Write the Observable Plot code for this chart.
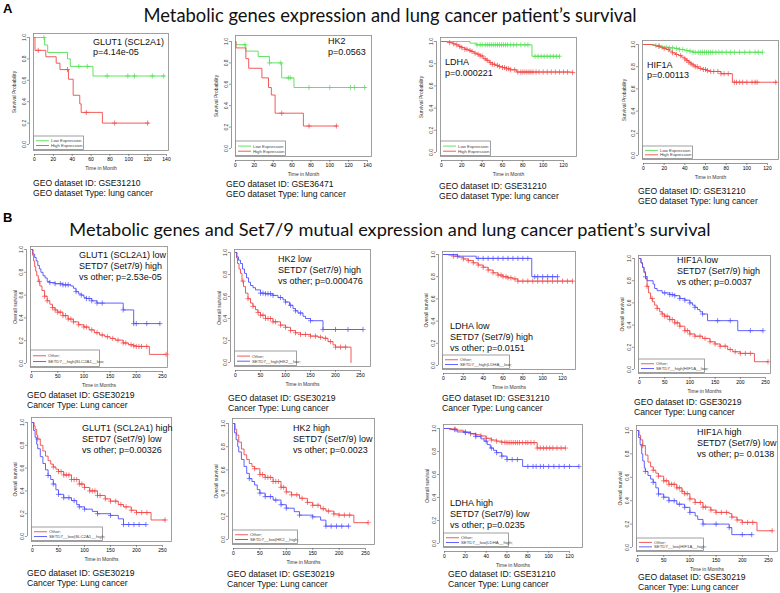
<!DOCTYPE html>
<html><head><meta charset="utf-8">
<script src="https://cdn.jsdelivr.net/npm/d3@7"></script>
<script src="https://cdn.jsdelivr.net/npm/@observablehq/plot@0.6"></script>
<style>
body{margin:0;background:#fff;}
#fig{position:relative;width:780px;height:593px;overflow:hidden;background:#fff;}
</style></head>
<body><div id="fig"></div>
<script>
// ---------- DATA ----------
const yTicks = [0, 0.2, 0.4, 0.6, 0.8, 1.0];
const xTicks140 = [0, 20, 40, 60, 80, 100, 120, 140];
const xTicks120 = [0, 20, 40, 60, 80, 100, 120];
const xTicks250 = [0, 50, 100, 150, 200, 250];

const titleA = "Metabolic genes expression and lung cancer patient\u2019s survival";
const titleB = "Metabolic genes and Set7/9 mutual expression and lung cancer patient\u2019s survival";

// Panel A1 GLUT1
const a1Low = [[0,1],[10.7,0.93],[14,0.86],[35,0.80],[38,0.73],[62,0.64],[138,0.64]];
const a1LowCens = [10,47,56,77,99,106,125,137];
const a1High = [[0,1],[0.5,0.88],[12,0.82],[23,0.76],[27,0.70],[36,0.61],[41,0.46],[48,0.38],[49.5,0.30],[72,0.20],[121,0.20]];
const a1HighCens = [4,35,55,85,120];
// Panel A2 HK2
const a2Low = [[0,1],[0.5,0.97],[11,0.91],[24,0.86],[36,0.80],[49,0.66],[62,0.57],[138,0.57]];
const a2LowCens = [10,36,48,56,58,78,100,122,126,137];
const a2High = [[0,1],[0.5,0.94],[11,0.84],[14,0.75],[28,0.66],[35,0.57],[38,0.50],[42,0.33],[72,0.21],[108,0.21]];
const a2HighCens = [49,78,107];
// Panel A3 LDHA
const a3Low = [[0,1],[28,0.985],[34,0.97],[89,0.867],[116,0.867]];
const a3LowCens = [35,38,40,43,45,47,49,51,53,55,57,59,61,63,65,68,71,74,78,82,85,92,95,98,101,104,107,110,113,116];
const a3High = [[0,1],[5,0.995],[8,0.99],[11,0.98],[14,0.97],[17,0.955],[20,0.945],[23,0.93],[26,0.92],[29,0.91],[32,0.895],[35,0.885],[38,0.87],[41,0.845],[44,0.83],[47,0.81],[50,0.795],[53,0.785],[56,0.775],[60,0.765],[64,0.755],[68,0.745],[74,0.725],[129,0.72]];
const a3HighCens = [8,12,15,18,20,23,25,28,30,33,36,38,40,43,45,48,50,52,55,57,60,62,64,66,68,72,75,78,80,82,84,86,88,90,93,96,100,104,108,112,116,120,124,129];
// Panel A4 HIF1A
const a4Low = [[0,1],[10,0.99],[14,0.985],[18,0.975],[24,0.97],[30,0.965],[35,0.955],[40,0.945],[44,0.94],[48,0.93],[115,0.93]];
const a4LowCens = [12,15,18,22,25,28,32,35,38,42,45,48,50,53,55,57,59,61,63,65,67,70,73,76,80,84,88,93,98,103,108,111,115];
const a4High = [[0,1],[8,0.995],[12,0.985],[16,0.975],[19,0.965],[22,0.955],[25,0.94],[28,0.925],[31,0.91],[34,0.9],[37,0.885],[40,0.87],[42,0.855],[44,0.84],[46,0.825],[48,0.815],[50,0.8],[53,0.785],[57,0.775],[61,0.765],[64,0.757],[75,0.737],[86,0.66],[129,0.66]];
const a4HighCens = [15,20,24,28,32,36,40,42,44,46,48,50,52,55,58,60,62,65,68,72,75,78,82,88,90,93,96,100,105,108,110,128];
// Panel B1 GLUT1 low / SETD7 high
const b1Blue = [[0,1],[3,0.96],[6,0.93],[9,0.9],[12,0.86],[15,0.83],[18,0.8],[22,0.77],[26,0.75],[30,0.72],[35,0.71],[45,0.70],[60,0.69],[75,0.68],[80,0.66],[85,0.63],[90,0.61],[95,0.60],[100,0.58],[105,0.57],[115,0.55],[125,0.53],[175,0.47],[195,0.35],[245,0.35]];
const b1BlueCens = [35,45,55,60,65,70,85,95,105,110,115,125,135,175,195,200,220,245];
const b1Red = [[0,1],[2,0.95],[4,0.9],[6,0.85],[8,0.81],[10,0.77],[13,0.72],[16,0.68],[20,0.64],[25,0.59],[30,0.55],[35,0.52],[40,0.49],[45,0.47],[50,0.45],[60,0.42],[70,0.39],[80,0.365],[90,0.34],[100,0.32],[110,0.295],[120,0.27],[130,0.25],[140,0.235],[150,0.22],[160,0.205],[175,0.18],[185,0.165],[195,0.155],[200,0.15],[225,0.08],[257,0.08]];
const b1RedCens = [15,25,30,40,45,50,55,60,65,70,75,80,90,100,105,115,125,135,145,155,165,175,180,190,195,200,205,210,220,257];
// Panel B2 HK2 low / SETD7 high
const b2Blue = [[0,1],[3,0.96],[6,0.93],[10,0.9],[14,0.85],[18,0.81],[22,0.77],[26,0.73],[30,0.70],[35,0.68],[40,0.66],[50,0.63],[60,0.625],[75,0.61],[85,0.59],[95,0.57],[100,0.55],[108,0.52],[115,0.49],[120,0.47],[125,0.45],[135,0.42],[140,0.40],[150,0.38],[175,0.30],[255,0.30]];
const b2BlueCens = [50,55,60,65,70,75,90,100,110,120,130,150,175,200,225,255];
const b2Red = [[0,1],[2,0.95],[4,0.9],[7,0.85],[10,0.81],[13,0.74],[16,0.69],[20,0.63],[25,0.58],[30,0.54],[35,0.51],[40,0.48],[45,0.455],[50,0.43],[60,0.40],[75,0.37],[90,0.34],[100,0.32],[110,0.29],[120,0.27],[130,0.255],[150,0.24],[165,0.23],[175,0.22],[185,0.19],[195,0.16],[200,0.14],[231,0]];
const b2RedCens = [15,25,35,45,50,55,60,65,70,75,80,90,100,110,120,130,140,150,160,170,180,190,200,210,220];
// Panel B3 LDHA low / SETD7 high
const b3Blue = [[0,1],[14,0.985],[33,0.965],[89,0.80],[115,0.80]];
const b3BlueCens = [14,35,40,45,50,55,60,65,70,75,80,85,92,95,100,105,110,115];
const b3Red = [[0,1],[5,0.995],[10,0.985],[15,0.975],[20,0.96],[25,0.945],[30,0.925],[35,0.905],[40,0.885],[45,0.86],[50,0.835],[55,0.815],[60,0.80],[65,0.79],[70,0.78],[75,0.76],[130,0.76]];
const b3RedCens = [10,20,25,30,35,40,45,50,55,58,60,63,65,68,72,75,80,85,90,95,100,105,110,115,120,125,130];
// Panel B4 HIF1A low / SETD7 high
const b4Blue = [[0,1],[3,0.96],[6,0.92],[9,0.88],[12,0.835],[15,0.80],[27,0.77],[30,0.73],[35,0.71],[45,0.69],[60,0.675],[70,0.665],[80,0.64],[90,0.625],[100,0.60],[105,0.58],[110,0.56],[115,0.54],[120,0.52],[125,0.50],[135,0.44],[195,0.35],[245,0.35]];
const b4BlueCens = [12,50,60,65,70,80,90,100,110,125,155,180,220,245];
const b4Red = [[0,1],[3,0.96],[6,0.92],[9,0.87],[12,0.82],[15,0.75],[18,0.69],[22,0.64],[26,0.61],[30,0.58],[35,0.55],[40,0.52],[45,0.50],[50,0.48],[60,0.45],[70,0.42],[80,0.39],[90,0.35],[100,0.32],[110,0.30],[125,0.28],[140,0.25],[150,0.23],[160,0.21],[175,0.18],[185,0.16],[200,0.145],[228,0.07],[255,0.07]];
const b4RedCens = [15,25,35,45,50,55,60,65,70,75,80,90,95,100,110,120,130,140,150,160,170,180,190,200,210,220,255];
// Panel B5 GLUT1 high / SETD7 low
const b5Red = [[0,1],[3,0.97],[5,0.94],[8,0.89],[10,0.855],[15,0.80],[20,0.75],[25,0.705],[30,0.665],[35,0.635],[40,0.61],[45,0.59],[50,0.57],[60,0.54],[75,0.50],[90,0.46],[100,0.43],[110,0.40],[125,0.36],[140,0.33],[150,0.31],[165,0.28],[175,0.26],[190,0.23],[200,0.21],[228,0.145],[255,0.145]];
const b5RedCens = [10,40,50,55,60,65,70,75,80,85,90,95,100,110,115,120,125,130,140,150,160,170,180,190,200,210,220,255];
const b5Blue = [[0,1],[2,0.93],[5,0.87],[8,0.81],[10,0.77],[15,0.70],[20,0.64],[25,0.585],[30,0.535],[35,0.50],[40,0.46],[45,0.41],[50,0.37],[60,0.34],[75,0.315],[85,0.28],[90,0.26],[100,0.24],[115,0.22],[125,0.20],[150,0.185],[165,0.155],[175,0.105],[218,0.105]];
const b5BlueCens = [30,40,50,60,70,80,90,100,125,150,175,185,195,205,218];
// Panel B6 HK2 high / SETD7 low
const b6Red = [[0,1],[3,0.95],[6,0.90],[10,0.84],[15,0.78],[20,0.73],[25,0.69],[30,0.655],[35,0.63],[40,0.61],[50,0.56],[60,0.535],[75,0.50],[90,0.45],[100,0.41],[110,0.385],[125,0.355],[140,0.32],[150,0.295],[165,0.265],[175,0.245],[190,0.22],[200,0.21],[228,0.145],[255,0.145]];
const b6RedCens = [40,50,55,60,65,70,75,80,85,90,95,100,110,120,130,140,150,160,170,180,190,200,210,220,255];
const b6Blue = [[0,1],[2,0.92],[5,0.86],[8,0.80],[10,0.755],[15,0.69],[20,0.63],[25,0.57],[30,0.525],[35,0.50],[40,0.47],[45,0.43],[50,0.40],[60,0.37],[75,0.34],[90,0.30],[100,0.27],[115,0.24],[125,0.21],[150,0.195],[165,0.167],[175,0.115],[218,0.115]];
const b6BlueCens = [30,50,60,70,80,90,100,125,150,175,185,195,205,218];
// Panel B7 LDHA high / SETD7 low
const b7Red = [[0,1],[7,0.995],[12,0.985],[18,0.97],[25,0.955],[30,0.945],[35,0.935],[40,0.915],[45,0.90],[50,0.89],[55,0.88],[60,0.877],[89,0.83],[116,0.83]];
const b7RedCens = [10,20,25,30,35,40,45,50,55,58,60,62,64,66,68,70,72,75,78,80,83,86,89,92,95,98,101,104,108,112,116];
const b7Blue = [[0,1],[5,0.99],[12,0.97],[20,0.965],[25,0.955],[30,0.93],[35,0.91],[38,0.89],[41,0.86],[44,0.83],[47,0.81],[50,0.79],[55,0.76],[60,0.73],[75,0.67],[129,0.67]];
const b7BlueCens = [10,20,30,40,45,50,55,60,65,70,80,85,88,92,95,100,105,110,115,120,129];
// Panel B8 HIF1A high / SETD7 low
const b8Red = [[0,1],[3,0.96],[6,0.92],[10,0.87],[15,0.79],[20,0.73],[25,0.69],[30,0.66],[35,0.635],[40,0.61],[50,0.57],[60,0.54],[75,0.51],[85,0.48],[90,0.46],[100,0.415],[110,0.385],[125,0.345],[140,0.32],[150,0.30],[175,0.29],[180,0.26],[190,0.235],[200,0.215],[228,0.143],[257,0.143]];
const b8RedCens = [10,30,40,50,55,60,65,70,75,80,85,90,95,100,110,120,125,130,140,150,160,170,180,190,200,210,220,257];
const b8Blue = [[0,1],[2,0.94],[5,0.88],[8,0.80],[10,0.74],[13,0.68],[15,0.65],[20,0.615],[25,0.585],[30,0.557],[35,0.51],[40,0.457],[50,0.43],[60,0.40],[75,0.37],[90,0.343],[100,0.30],[110,0.27],[115,0.24],[125,0.20],[175,0.17],[180,0.11],[218,0.11]];
const b8BlueCens = [15,30,40,50,60,70,80,90,100,125,150,175,200,218];

// Texts
const panelLabels = [
  ["GLUT1 (SCL2A1)", "p=4.14e-05"],
  ["HK2", "p=0.0563"],
  ["LDHA", "p=0.000221"],
  ["HIF1A", "p=0.00113"],
  ["GLUT1 (SCL2A1) low", "SETD7 (Set7/9) high", "vs other; p=2.53e-05"],
  ["HK2 low", "SETD7 (Set7/9) high", "vs other; p=0.000476"],
  ["LDHA low", "SETD7 (Set7/9) high", "vs other; p=0.0151"],
  ["HIF1A low", "SETD7 (Set7/9) high", "vs other; p=0.0037"],
  ["GLUT1 (SCL2A1) high", "SETD7 (Set7/9) low", "vs other; p=0.00326"],
  ["HK2 high", "SETD7 (Set7/9) low", "vs other; p=0.0023"],
  ["LDHA high", "SETD7 (Set7/9) low", "vs other; p=0.0235"],
  ["HIF1A high", "SETD7 (Set7/9) low", "vs other; p= 0.0138"]
];
const geoTexts = [
  ["GEO dataset ID: GSE31210", "GEO dataset Type: lung cancer"],
  ["GEO dataset ID: GSE36471", "GEO dataset Type: lung cancer"],
  ["GEO dataset ID: GSE31210", "GEO dataset Type: lung cancer"],
  ["GEO dataset ID: GSE31210", "GEO dataset Type: lung cancer"],
  ["GEO dataset ID: GSE30219", "Cancer Type: Lung cancer"],
  ["GEO dataset ID: GSE30219", "Cancer Type: Lung cancer"],
  ["GEO dataset ID: GSE31210", "Cancer Type: Lung cancer"],
  ["GEO dataset ID: GSE30219", "Cancer Type: Lung cancer"],
  ["GEO dataset ID: GSE30219", "Cancer Type: Lung cancer"],
  ["GEO dataset ID: GSE30219", "Cancer Type: Lung cancer"],
  ["GEO dataset ID: GSE31210", "Cancer Type: Lung cancer"],
  ["GEO dataset ID: GSE30219", "Cancer Type: Lung cancer"]
];
const legendA = ["Low Expression", "High Expression"];
const legendB = [
  ["Other;", "SETD7__high|SLC2A1__low;"],
  ["Other;", "SETD7__high|HK2__low;"],
  ["Other;", "SETD7__high|LDHA__low;"],
  ["Other;", "SETD7__high|HIF1A__low;"],
  ["Other;", "SETD7__low|SLC2A1__high;"],
  ["Other;", "SETD7__low|HK2__high;"],
  ["Other;", "SETD7__low|LDHA__high;"],
  ["Other;", "SETD7__low|HIF1A__high;"]
];

// ---------- STYLE / LAYOUT ----------
const GREEN = "#52e052", RED = "#f24848", BLUE = "#5050ff";
const panels = [
  {s:[[a1Low,a1LowCens,GREEN],[a1High,a1HighCens,RED]], xt:xTicks140, yl:"Survival Probability", xl:"Time in Month"},
  {s:[[a2Low,a2LowCens,GREEN],[a2High,a2HighCens,RED]], xt:xTicks140, yl:"Survival Probability", xl:"Time in Month"},
  {s:[[a3Low,a3LowCens,GREEN],[a3High,a3HighCens,RED]], xt:xTicks120, yl:"Survival Probability", xl:"Time in Month"},
  {s:[[a4Low,a4LowCens,GREEN],[a4High,a4HighCens,RED]], xt:xTicks120, yl:"Survival Probability", xl:"Time in Month"},
  {s:[[b1Red,b1RedCens,RED],[b1Blue,b1BlueCens,BLUE]], xt:xTicks250, yl:"Overall survival", xl:"Time in Months"},
  {s:[[b2Red,b2RedCens,RED],[b2Blue,b2BlueCens,BLUE]], xt:xTicks250, yl:"Overall survival", xl:"Time in Months"},
  {s:[[b3Red,b3RedCens,RED],[b3Blue,b3BlueCens,BLUE]], xt:xTicks120, yl:"Overall survival", xl:"Time in Months"},
  {s:[[b4Red,b4RedCens,RED],[b4Blue,b4BlueCens,BLUE]], xt:xTicks250, yl:"Overall survival", xl:"Time in Months"},
  {s:[[b5Red,b5RedCens,RED],[b5Blue,b5BlueCens,BLUE]], xt:xTicks250, yl:"Overall survival", xl:"Time in Months"},
  {s:[[b6Red,b6RedCens,RED],[b6Blue,b6BlueCens,BLUE]], xt:xTicks250, yl:"Overall survival", xl:"Time in Months"},
  {s:[[b7Red,b7RedCens,RED],[b7Blue,b7BlueCens,BLUE]], xt:xTicks120, yl:"Overall survival", xl:"Time in Months"},
  {s:[[b8Red,b8RedCens,RED],[b8Blue,b8BlueCens,BLUE]], xt:xTicks250, yl:"Overall survival", xl:"Time in Months"}
];
// frame box, tick anchors, label/geo positions, legend size (page pixels)
const layout = [
  {fl:33, fr:168,ft:33, fb:150,x0:34, xr:140,xp:166,y1:37, y0:144,lx:93, ly:44.5,gx:33, gy:185.5,lw:50,lh:14,yt:-19},
  {fl:235,fr:371,ft:35, fb:156,x0:235,xr:140,xp:367,y1:41, y0:148,lx:328,ly:44,  gx:226,gy:187.3,lw:50,lh:15,yt:-19},
  {fl:440,fr:576,ft:37, fb:156,x0:441,xr:120,xp:563,y1:41, y0:152,lx:445,ly:65,  gx:439,gy:188.7,lw:50,lh:15,yt:-19},
  {fl:642,fr:778,ft:40, fb:159,x0:643,xr:120,xp:767,y1:44, y0:155,lx:647,ly:67.7,gx:638,gy:194,  lw:50,lh:13,yt:-18},
  {fl:30, fr:167,ft:246,fb:367,x0:31, xr:250,xp:162,y1:249,y0:363,lx:79, ly:257.7,gx:27, gy:398.3,lw:69,lh:17,yt:-15},
  {fl:234,fr:370,ft:249,fb:366,x0:235,xr:250,xp:360,y1:252,y0:362,lx:278,ly:262, gx:228,gy:401,  lw:62,lh:15,yt:-15},
  {fl:442,fr:575,ft:251,fb:369,x0:443,xr:120,xp:562,y1:254,y0:365,lx:450,ly:329, gx:442,gy:401,  lw:67,lh:14,yt:-16},
  {fl:638,fr:770,ft:255,fb:373,x0:639,xr:250,xp:765,y1:258,y0:369,lx:677,ly:262.7,gx:634,gy:405, lw:66,lh:14,yt:-16},
  {fl:31, fr:171,ft:417,fb:541,x0:32, xr:250,xp:162,y1:422,y0:536,lx:82, ly:431, gx:27, gy:575.7,lw:71,lh:14,yt:-16},
  {fl:232,fr:374,ft:418,fb:544,x0:233,xr:250,xp:365,y1:423,y0:539,lx:293,ly:431, gx:227,gy:576.7,lw:65,lh:14,yt:-16},
  {fl:443,fr:582,ft:424,fb:547,x0:444,xr:120,xp:569,y1:428,y0:543,lx:450,ly:506, gx:448,gy:576.7,lw:65,lh:14,yt:-16},
  {fl:636,fr:777,ft:425,fb:551,x0:637,xr:250,xp:768,y1:430,y0:547,lx:697,ly:435, gx:638,gy:580,  lw:67,lh:13,yt:-16}
];

const FONT = "Liberation Sans, Arial, sans-serif";
const fig = document.getElementById("fig");
const fmt = d3.format(".1f");
function survAt(d, t) { let s = d[0][1]; for (const [tt, ss] of d) { if (tt <= t) s = ss; else break; } return s; }

panels.forEach((P, i) => {
  const L = layout[i];
  const mL = 22, mR = 2, mT = 2, mB = 24;
  const kx = (L.xp - L.x0) / L.xr;
  const xd = [(L.fl - L.x0) / kx, (L.fr - L.x0) / kx];
  const ky = L.y0 - L.y1;
  const yd = [-(L.fb - L.y0) / ky, 1 + (L.y1 - L.ft) / ky];
  const lastTick = P.xt[P.xt.length - 1];
  const marks = [
    Plot.frame({stroke: "#888", strokeWidth: 0.8}),
    Plot.ruleY([yd[0]], {x1: 0, x2: lastTick, dy: 4, stroke: "#555", strokeWidth: 0.6}),
    Plot.axisX({ticks: P.xt, tickSize: 2, tickPadding: 1, dy: 4, label: null, fontSize: 5, stroke: "#555", strokeWidth: 0.6}),
    Plot.ruleX([xd[0]], {y1: 0, y2: 1, dx: -4, stroke: "#555", strokeWidth: 0.6}),
    Plot.axisY({ticks: yTicks, tickSize: 2, dx: -4, tickFormat: () => "", label: null, stroke: "#555", strokeWidth: 0.6}),
    Plot.text(yTicks, {y: d => d, frameAnchor: "left", dx: -9, rotate: -90, text: d => fmt(d), fontSize: 5, fill: "#333", textAnchor: "middle", lineAnchor: "middle"}),
    Plot.text([P.xl], {frameAnchor: "bottom", dy: 18, fontSize: 5, fill: "#333", textAnchor: "middle", lineAnchor: "middle"}),
    Plot.text([P.yl], {frameAnchor: "left", dx: L.yt, rotate: -90, fontSize: 5, fill: "#333", textAnchor: "middle", lineAnchor: "middle"})
  ];
  for (const [d, c, col] of P.s) {
    marks.push(Plot.line(d, {x: d => d[0], y: d => d[1], curve: "step-after", stroke: col, strokeWidth: 0.9}));
    marks.push(Plot.dot(c, {x: t => t, y: t => survAt(d, t), symbol: "plus", r: 1.8, stroke: col, strokeWidth: 0.7}));
  }
  const svg = Plot.plot({
    width: L.fr - L.fl + mL + mR, height: L.fb - L.ft + mT + mB,
    marginLeft: mL, marginRight: mR, marginTop: mT, marginBottom: mB,
    x: {domain: xd}, y: {domain: yd},
    style: {fontFamily: FONT, background: "transparent", overflow: "visible"},
    marks
  });
  const wrap = document.createElement("div");
  wrap.style.cssText = `position:absolute;left:${L.fl - mL}px;top:${L.ft - mT}px;`;
  wrap.append(svg);
  fig.append(wrap);
});

// ---------- OVERLAY TEXT ----------
const ov = d3.select(fig).append("svg")
  .attr("width", 780).attr("height", 593)
  .style("position", "absolute").style("left", "0px").style("top", "0px")
  .style("font-family", FONT);

const TITLE_FONT = "Lato, 'Open Sans', sans-serif";
function fitSize(text, family, target) {
  const c = document.createElement("canvas").getContext("2d");
  c.font = `100px ${family}`;
  return 100 * target / c.measureText(text).width;
}
const tsA = fitSize(titleA, TITLE_FONT, 494);
const tsB = fitSize(titleB, TITLE_FONT, 642);
ov.append("text").attr("x", 390).attr("y", 21.5).attr("text-anchor", "middle")
  .style("font-family", TITLE_FONT).style("font-size", tsA + "px").attr("fill", "#111").text(titleA);
ov.append("text").attr("x", 390).attr("y", 236).attr("text-anchor", "middle")
  .style("font-family", TITLE_FONT).style("font-size", tsB + "px").attr("fill", "#111").text(titleB);
ov.append("text").attr("x", 3).attr("y", 13).style("font-size", "13px").style("font-weight", "bold").text("A");
ov.append("text").attr("x", 3).attr("y", 222).style("font-size", "13px").style("font-weight", "bold").text("B");

layout.forEach((L, i) => {
  const isA = i < 4;
  const ls = isA ? 10.5 : 11;
  panelLabels[i].forEach((t, j) => {
    ov.append("text").attr("x", L.lx).attr("y", L.ly + j * ls).style("font-size", "9px").attr("fill", "#111").text(t);
  });
  geoTexts[i].forEach((t, j) => {
    ov.append("text").attr("x", L.gx).attr("y", L.gy + j * 10).style("font-size", "8.6px").attr("fill", "#111").text(t);
  });
  // legend
  const lx = L.fl, ly = L.fb - L.lh;
  const g = ov.append("g");
  g.append("rect").attr("x", lx + 0.5).attr("y", ly).attr("width", L.lw).attr("height", L.lh - 0.5)
    .attr("fill", "#fff").attr("stroke", "#888").attr("stroke-width", 0.8);
  const texts = isA ? legendA : legendB[i - 4];
  const cols = isA ? [GREEN, RED] : [RED, BLUE];
  [0.34, 0.68].forEach((f, j) => {
    const yy = ly + L.lh * f;
    g.append("line").attr("x1", lx + 3).attr("x2", lx + 16).attr("y1", yy).attr("y2", yy)
      .attr("stroke", cols[j]).attr("stroke-width", 0.9);
    g.append("text").attr("x", lx + 18).attr("y", yy + 1.5).style("font-size", "4.3px").attr("fill", "#444").text(texts[j]);
  });
});
</script>
</body></html>
